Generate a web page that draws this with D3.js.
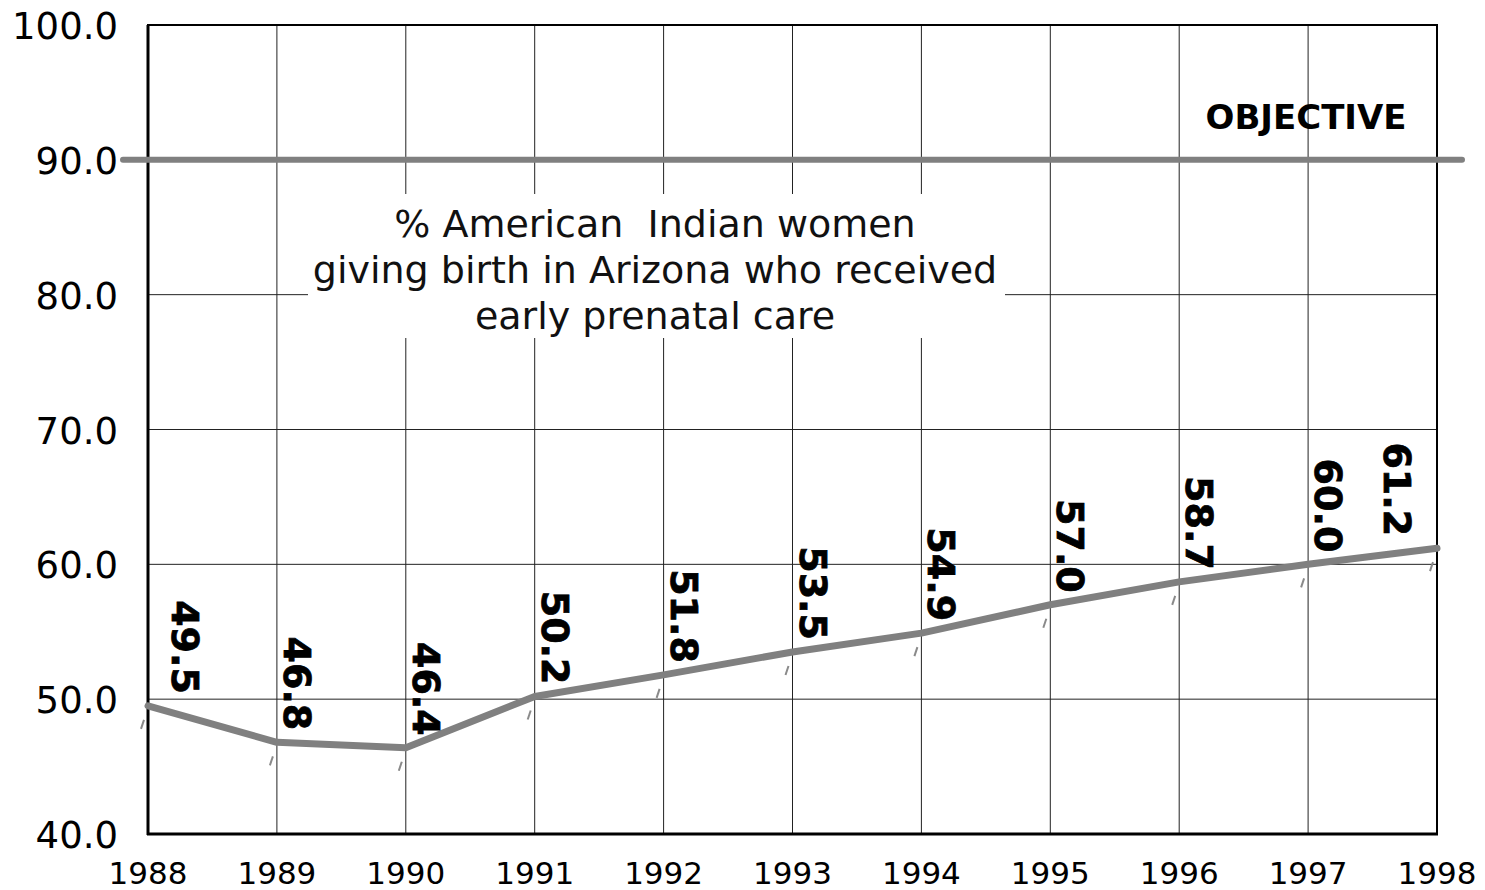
<!DOCTYPE html>
<html>
<head>
<meta charset="utf-8">
<script src="https://cdn.jsdelivr.net/npm/d3@7"></script>
<style>
  body { margin: 0; background: #fff; }
  svg { display: block; font-family: "DejaVu Sans", Verdana, sans-serif; }
</style>
</head>
<body>
<svg id="chart" width="1485" height="890"></svg>
<script>
// data
var years = [1988, 1989, 1990, 1991, 1992, 1993, 1994, 1995, 1996, 1997, 1998];
var pctCare = [49.5, 46.8, 46.4, 50.2, 51.8, 53.5, 54.9, 57.0, 58.7, 60.0, 61.2];
var objective = 90;
var yTicks = [40, 50, 60, 70, 80, 90, 100];
var titleLines = ["% American  Indian women", "giving birth in Arizona who received", "early prenatal care"];

var svg = d3.select("#chart");
// plot edges (careful: "top" is taken by window.top)
var pl = 148, pr = 1437, pt = 25, pb = 834;

var x = d3.scaleLinear().domain([1988, 1998]).range([pl, pr]);
var y = d3.scaleLinear().domain([40, 100]).range([pb, pt]);

// grid
svg.append("g").selectAll("line").data(years.slice(1, -1)).join("line")
    .attr("x1", d => x(d)).attr("x2", d => x(d))
    .attr("y1", pt).attr("y2", pb)
    .attr("stroke", "#222").attr("stroke-width", 1);

svg.append("g").selectAll("line").data(yTicks.slice(1, -1)).join("line")
    .attr("x1", pl).attr("x2", pr)
    .attr("y1", d => y(d)).attr("y2", d => y(d))
    .attr("stroke", "#222").attr("stroke-width", 1);

// title box hides the grid behind it
svg.append("rect")
    .attr("x", 308).attr("y", 194).attr("width", 697).attr("height", 144)
    .attr("fill", "#fff");

svg.append("text")
    .attr("x", 655).attr("y", 237)
    .attr("text-anchor", "middle")
    .style("font-size", "38px")
    .attr("fill", "#111")
    .style("white-space", "pre")
    .selectAll("tspan").data(titleLines).join("tspan")
    .attr("x", 655)
    .attr("dy", (d, i) => i == 0 ? 0 : 46)
    .text(d => d);

// frame
svg.append("rect")
    .attr("x", pl).attr("y", pt).attr("width", pr - pl).attr("height", pb - pt)
    .attr("fill", "none").attr("stroke", "#000").attr("stroke-width", 2);
svg.append("line").attr("x1", pl).attr("x2", pl).attr("y1", pt).attr("y2", pb + 1)
    .attr("stroke", "#000").attr("stroke-width", 3);
svg.append("line").attr("x1", pl - 1).attr("x2", pr + 1).attr("y1", pb).attr("y2", pb)
    .attr("stroke", "#000").attr("stroke-width", 3);

// axis labels
svg.append("g").selectAll("text").data(yTicks).join("text")
    .attr("x", 118).attr("y", d => y(d) + 14)
    .attr("text-anchor", "end")
    .style("font-size", "37px")
    .text(d => d.toFixed(1));

svg.append("g").selectAll("text").data(years).join("text")
    .attr("x", d => x(d)).attr("y", 884)
    .attr("text-anchor", "middle")
    .style("font-size", "31px")
    .text(d => d);

// objective line
svg.append("line")
    .attr("x1", 123).attr("x2", 1462)
    .attr("y1", y(objective)).attr("y2", y(objective))
    .attr("stroke", "#808080").attr("stroke-width", 6)
    .attr("stroke-linecap", "round");

svg.append("text")
    .attr("x", 1306).attr("y", 129)
    .attr("text-anchor", "middle")
    .attr("font-weight", "bold")
    .style("font-size", "34px")
    .text("OBJECTIVE");

// small slash marks below each point
svg.append("g").selectAll("line").data(years).join("line")
    .attr("x1", d => x(d) - 7).attr("x2", d => x(d) - 4)
    .attr("y1", (d, i) => y(pctCare[i]) + 23).attr("y2", (d, i) => y(pctCare[i]) + 14)
    .attr("stroke", "#8a8a8a").attr("stroke-width", 2);

// data line
var line = d3.line().x((d, i) => x(years[i])).y(d => y(d));
svg.append("path")
    .datum(pctCare)
    .attr("d", line)
    .attr("fill", "none")
    .attr("stroke", "#808080")
    .attr("stroke-width", 7)
    .attr("stroke-linejoin", "round")
    .attr("stroke-linecap", "round");

// vertical value labels
svg.append("g").selectAll("text").data(pctCare).join("text")
    .attr("transform", (d, i) => {
        var dx = i == 0 ? 24 : (i == pctCare.length - 1 ? -53 : 7);
        return "translate(" + (x(years[i]) + dx) + "," + (y(d) - 12) + ") rotate(90)";
    })
    .attr("text-anchor", "end")
    .attr("font-weight", "bold")
    .style("font-size", "38px")
    .style("stroke", "#000").style("stroke-width", 0.8)
    .text(d => d.toFixed(1));
</script>
</body>
</html>
